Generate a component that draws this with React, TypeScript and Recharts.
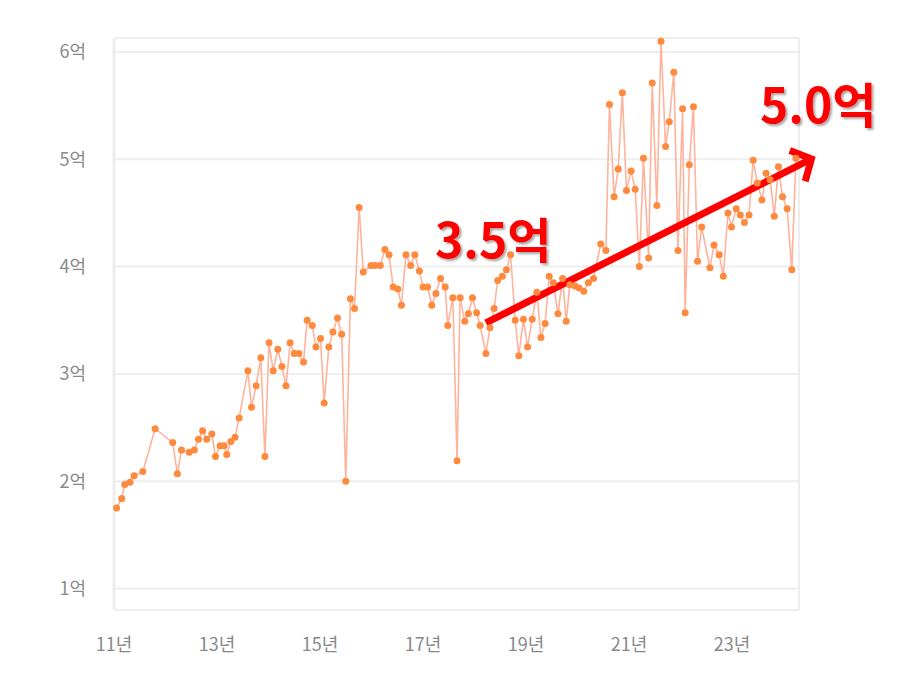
import { LineChart, Line, XAxis, YAxis, CartesianGrid, ReferenceLine } from "recharts";

// 거래 시점 (연도, 소수) 과 가격 (억)
const years = [
  2011.05, 2011.15, 2011.21, 2011.31, 2011.39, 2011.56, 2011.8, 2012.14, 2012.23, 2012.31,
  2012.46, 2012.56, 2012.64, 2012.72, 2012.8, 2012.9, 2012.97, 2013.06, 2013.14, 2013.19,
  2013.27, 2013.35, 2013.43, 2013.6, 2013.67, 2013.76, 2013.85, 2013.93, 2014.01, 2014.09,
  2014.18, 2014.26, 2014.34, 2014.42, 2014.5, 2014.59, 2014.68, 2014.75, 2014.85, 2014.92,
  2015.01, 2015.08, 2015.17, 2015.25, 2015.34, 2015.42, 2015.5, 2015.59, 2015.67, 2015.76,
  2015.84, 2015.99, 2016.07, 2016.17, 2016.26, 2016.34, 2016.42, 2016.51, 2016.58, 2016.67,
  2016.76, 2016.84, 2016.93, 2017.0, 2017.09, 2017.17, 2017.25, 2017.34, 2017.43, 2017.48,
  2017.58, 2017.66, 2017.72, 2017.81, 2017.88, 2017.96, 2018.04, 2018.11, 2018.22, 2018.3,
  2018.38, 2018.45, 2018.54, 2018.62, 2018.7, 2018.79, 2018.86, 2018.95, 2019.03, 2019.12,
  2019.21, 2019.29, 2019.37, 2019.45, 2019.53, 2019.62, 2019.71, 2019.78, 2019.85, 2019.95,
  2020.03, 2020.12, 2020.21, 2020.31, 2020.45, 2020.55, 2020.62, 2020.71, 2020.79, 2020.87,
  2020.95, 2021.04, 2021.12, 2021.2, 2021.28, 2021.38, 2021.45, 2021.54, 2021.62, 2021.71,
  2021.78, 2021.87, 2021.95, 2022.04, 2022.09, 2022.17, 2022.25, 2022.33, 2022.41, 2022.57,
  2022.65, 2022.75, 2022.83, 2022.92, 2022.99, 2023.08, 2023.16, 2023.24, 2023.33, 2023.41,
  2023.49, 2023.58, 2023.66, 2023.74, 2023.82, 2023.9, 2023.98, 2024.07, 2024.16, 2024.24,
];

const prices = [
  1.75, 1.84, 1.97, 1.99, 2.05, 2.09, 2.49, 2.36, 2.07, 2.29,
  2.27, 2.29, 2.39, 2.47, 2.39, 2.44, 2.23, 2.33, 2.33, 2.25,
  2.37, 2.41, 2.59, 3.03, 2.69, 2.89, 3.15, 2.23, 3.29, 3.03,
  3.23, 3.07, 2.89, 3.29, 3.19, 3.19, 3.11, 3.5, 3.45, 3.25,
  3.33, 2.73, 3.25, 3.39, 3.52, 3.37, 2.0, 3.7, 3.61, 4.55,
  3.95, 4.01, 4.01, 4.01, 4.16, 4.11, 3.81, 3.79, 3.64, 4.11,
  4.01, 4.11, 3.96, 3.81, 3.81, 3.64, 3.75, 3.89, 3.81, 3.45,
  3.71, 2.19, 3.71, 3.49, 3.56, 3.71, 3.57, 3.45, 3.19, 3.43,
  3.61, 3.87, 3.91, 3.97, 4.11, 3.5, 3.17, 3.51, 3.25, 3.51,
  3.76, 3.34, 3.47, 3.91, 3.85, 3.56, 3.89, 3.49, 3.83, 3.82,
  3.8, 3.77, 3.85, 3.89, 4.21, 4.15, 5.51, 4.65, 4.91, 5.62,
  4.71, 4.89, 4.72, 4.0, 5.01, 4.08, 5.71, 4.57, 6.1, 5.12,
  5.35, 5.81, 4.15, 5.47, 3.57, 4.95, 5.49, 4.05, 4.37, 3.99,
  4.2, 4.11, 3.91, 4.5, 4.37, 4.54, 4.48, 4.41, 4.48, 4.99,
  4.78, 4.62, 4.87, 4.81, 4.47, 4.93, 4.65, 4.54, 3.97, 5.01,
];

const xTicks = [2011, 2013, 2015, 2017, 2019, 2021, 2023];
const xTickLabels = ["11년", "13년", "15년", "17년", "19년", "21년", "23년"];
const yTicks = [1, 2, 3, 4, 5, 6];
const yTickLabels = ["1억", "2억", "3억", "4억", "5억", "6억"];

// 추세 화살표 (시작 / 끝) 와 주석
const trendStart = { t: 2018.22, v: 3.475 };
const trendEnd = { t: 2024.61, v: 5.02 };
const startNote = "3.5억";
const endNote = "5.0억";

const data = years.map((t, i) => ({ t, price: prices[i] }));

const tickStyle = { fill: "#8a8a8a", fontSize: 18, fontFamily: "'Noto Sans CJK KR', sans-serif" };

const TrendArrow = (props: any) => {
  const { x1, y1, x2, y2 } = props;
  const a = Math.atan2(y2 - y1, x2 - x1);
  const arm = 26;
  const spread = 0.72;
  const p1 = [x2 - arm * Math.cos(a - spread), y2 - arm * Math.sin(a - spread)];
  const p2 = [x2 - arm * Math.cos(a + spread), y2 - arm * Math.sin(a + spread)];
  const tx = x2 - 4 * Math.cos(a);
  const ty = y2 - 4 * Math.sin(a);
  return (
    <g>
      <line x1={x1} y1={y1} x2={tx} y2={ty} stroke="#FF0000" strokeWidth={7} />
      <polyline
        points={`${p1[0]},${p1[1]} ${tx},${ty} ${p2[0]},${p2[1]}`}
        fill="none"
        stroke="#FF0000"
        strokeWidth={7}
        strokeLinejoin="miter"
      />
    </g>
  );
};

export default function App() {
  return (
    <div style={{ position: "absolute", left: 0, top: 0, width: 917, height: 696, background: "#fff" }}>
      <LineChart
        width={917}
        height={696}
        data={data}
        margin={{ top: 38, right: 118, bottom: 46, left: 0 }}
      >
        <CartesianGrid vertical={false} stroke="#EEEEEE" strokeWidth={2} />
        <XAxis
          dataKey="t"
          type="number"
          domain={[2011, 2024.3]}
          ticks={xTicks}
          tickFormatter={(v: number) => xTickLabels[xTicks.indexOf(v)]}
          axisLine={false}
          tickLine={false}
          tickSize={0}
          tickMargin={28}
          height={40}
          tick={tickStyle}
        />
        <YAxis
          type="number"
          domain={[0.8, 6.13]}
          ticks={yTicks}
          tickFormatter={(v: number) => yTickLabels[yTicks.indexOf(v)]}
          axisLine={{ stroke: "#EEEEEE", strokeWidth: 3 }}
          tickLine={false}
          tickSize={0}
          tickMargin={28}
          width={114}
          tick={tickStyle}
        />
        <ReferenceLine x={2024.3} stroke="#EEEEEE" strokeWidth={2} />
        <Line
          type="linear"
          dataKey="price"
          stroke="#FFB39C"
          strokeWidth={1.6}
          dot={{ r: 3.5, fill: "#FF8A3D", stroke: "#FF8A3D", strokeWidth: 0 }}
          activeDot={false}
          isAnimationActive={false}
        />
        <ReferenceLine
          segment={[
            { x: trendStart.t, y: trendStart.v },
            { x: trendEnd.t, y: trendEnd.v },
          ]}
          ifOverflow="visible"
          shape={TrendArrow}
        />
      </LineChart>
      <svg
        width={917}
        height={696}
        style={{ position: "absolute", left: 0, top: 0, pointerEvents: "none" }}
      >
        <defs>
          <filter id="note-shadow" x="-10%" y="-10%" width="130%" height="140%">
            <feDropShadow dx="2" dy="2" stdDeviation="1.2" floodColor="#000" floodOpacity="0.35" />
          </filter>
        </defs>
        <text
          x={435}
          y={258}
          fill="#FF0000"
          fontSize={48}
          fontWeight={700}
          fontFamily="'Noto Sans CJK KR', sans-serif"
          filter="url(#note-shadow)"
        >
          {startNote}
        </text>
        <text
          x={760}
          y={123}
          fill="#FF0000"
          fontSize={48}
          fontWeight={700}
          fontFamily="'Noto Sans CJK KR', sans-serif"
          filter="url(#note-shadow)"
        >
          {endNote}
        </text>
      </svg>
    </div>
  );
}
